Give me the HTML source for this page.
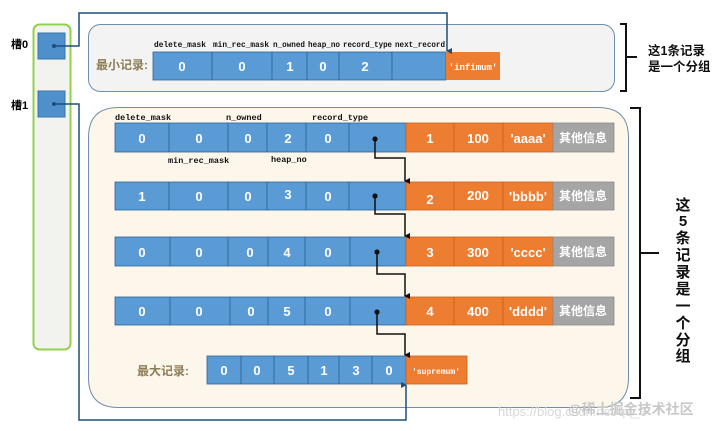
<!DOCTYPE html>
<html><head><meta charset="utf-8"><style>
body{margin:0;width:716px;height:431px;background:#fff;overflow:hidden}
svg{display:block}
.h{font-family:"Liberation Mono",monospace;font-size:8.5px;font-weight:bold;fill:#111}
.h2{font-family:"Liberation Mono",monospace;font-size:8px;font-weight:bold;fill:#111}
.v{font-family:"Liberation Sans",sans-serif;font-size:13px;font-weight:bold;fill:#fff;text-anchor:middle}
.c{font-family:"Liberation Sans","Noto Sans CJK SC",sans-serif;font-weight:bold}
</style></head><body>
<svg width="716" height="431" viewBox="0 0 716 431" xmlns="http://www.w3.org/2000/svg">
<defs><marker id="a" markerWidth="6" markerHeight="6" refX="3" refY="5" orient="auto-start-reverse" markerUnits="userSpaceOnUse"><path d="M0,0 L6,0 L3,6 z" fill="#111"/></marker>
<marker id="b" markerWidth="6" markerHeight="6" refX="3" refY="5" orient="auto" markerUnits="userSpaceOnUse"><path d="M0,0 L6,0 L3,6 z" fill="#1f4e79"/></marker></defs>
<rect x="33.5" y="24.5" width="37" height="325" rx="6" fill="#f2f3ee" stroke="#92d050" stroke-width="2"/>
<rect x="38" y="33" width="27" height="26" fill="#4f8fcc" stroke="#3a74a8"/>
<rect x="38" y="91" width="27" height="26" fill="#4f8fcc" stroke="#3a74a8"/>
<text x="11" y="48" class="c" font-size="11">槽0</text>
<text x="11" y="109" class="c" font-size="11">槽1</text>
<rect x="88.5" y="24.5" width="526" height="67" rx="12" fill="#f3f3f3" stroke="#6f8cab"/>
<text x="96" y="69" class="c" font-size="12" fill="#8c7d57">最小记录:</text>
<g class="h2"><text x="154" y="47" textLength="52" lengthAdjust="spacingAndGlyphs">delete_mask</text><text x="213" y="47" textLength="56" lengthAdjust="spacingAndGlyphs">min_rec_mask</text><text x="273" y="47" textLength="32" lengthAdjust="spacingAndGlyphs">n_owned</text><text x="308" y="47" textLength="32" lengthAdjust="spacingAndGlyphs">heap_no</text><text x="343" y="47" textLength="49" lengthAdjust="spacingAndGlyphs">record_type</text><text x="395" y="47" textLength="50" lengthAdjust="spacingAndGlyphs">next_record</text></g>
<g stroke="#2e6398" stroke-width="0.8" fill="#5b9bd5">
<rect x="153" y="52" width="59" height="28"/><rect x="212" y="52" width="60" height="28"/><rect x="272" y="52" width="35" height="28"/><rect x="307" y="52" width="32" height="28"/><rect x="339" y="52" width="53" height="28"/><rect x="392" y="52" width="54" height="28"/></g>
<rect x="446" y="52" width="54" height="28" fill="#ed7d31"/>
<g class="v"><text x="182" y="71">0</text><text x="242" y="71">0</text><text x="290" y="71">1</text><text x="323" y="71">0</text><text x="365" y="71">2</text></g>
<text x="473" y="70" font-family="Liberation Mono,monospace" font-size="9" font-weight="bold" fill="#fff" text-anchor="middle">'infimum'</text>
<path d="M620,24 h6 v67 h-6 M626,57 h11" fill="none" stroke="#111" stroke-width="2"/>
<text x="648" y="55" class="c" font-size="12.5" fill="#111">这1条记录</text>
<text x="648" y="71" class="c" font-size="12.5" fill="#111">是一个分组</text>
<path d="M118.5,107.5 H598.5 Q628.5,107.5 628.5,137.5 V377.5 Q628.5,407.5 598.5,407.5 H118.5 Q88.5,407.5 88.5,377.5 V137.5 Q88.5,107.5 118.5,107.5 z" fill="#fdf6ea" stroke="#6f8cab"/>
<g class="h"><text x="115" y="120">delete_mask</text><text x="226" y="120">n_owned</text><text x="312" y="120">record_type</text><text x="168" y="163">min_rec_mask</text><text x="271" y="162">heap_no</text></g>
<g stroke="#2e6398" stroke-width="0.8" fill="#5b9bd5">
<rect x="115" y="123" width="54" height="29"/><rect x="169" y="123" width="59" height="29"/><rect x="228" y="123" width="39" height="29"/><rect x="267" y="123" width="39" height="29"/><rect x="306" y="123" width="43" height="29"/><rect x="349" y="123" width="57" height="29"/>
<rect x="115" y="182" width="54" height="28"/><rect x="169" y="182" width="59" height="28"/><rect x="228" y="182" width="39" height="28"/><rect x="267" y="182" width="39" height="28"/><rect x="306" y="182" width="43" height="28"/><rect x="349" y="182" width="57" height="28"/>
<rect x="115" y="237" width="55" height="29"/><rect x="170" y="237" width="58" height="29"/><rect x="228" y="237" width="40" height="29"/><rect x="268" y="237" width="37" height="29"/><rect x="305" y="237" width="45" height="29"/><rect x="350" y="237" width="56" height="29"/>
<rect x="115" y="297" width="55" height="28"/><rect x="170" y="297" width="60" height="28"/><rect x="230" y="297" width="38" height="28"/><rect x="268" y="297" width="37" height="28"/><rect x="305" y="297" width="45" height="28"/><rect x="350" y="297" width="56" height="28"/>
<rect x="207" y="356" width="34" height="28"/><rect x="241" y="356" width="33" height="28"/><rect x="274" y="356" width="34" height="28"/><rect x="308" y="356" width="31" height="28"/><rect x="339" y="356" width="33" height="28"/><rect x="372" y="356" width="34" height="28"/>
</g>
<g stroke="#c8621c" stroke-width="0.8" fill="#ed7d31">
<rect x="406" y="123" width="48" height="29"/><rect x="454" y="123" width="49" height="29"/><rect x="503" y="123" width="50" height="29"/>
<rect x="406" y="182" width="48" height="28"/><rect x="454" y="182" width="49" height="28"/><rect x="503" y="182" width="50" height="28"/>
<rect x="406" y="237" width="48" height="29"/><rect x="454" y="237" width="49" height="29"/><rect x="503" y="237" width="50" height="29"/>
<rect x="406" y="297" width="48" height="28"/><rect x="454" y="297" width="49" height="28"/><rect x="503" y="297" width="50" height="28"/>
<rect x="406" y="356" width="61" height="28"/>
</g>
<g fill="#a5a5a5" stroke="#8a8a8a" stroke-width="0.8">
<rect x="553" y="123" width="61" height="29"/><rect x="553" y="182" width="61" height="28"/><rect x="553" y="237" width="61" height="29"/><rect x="553" y="297" width="61" height="28"/></g>
<g class="v">
<text x="142" y="143">0</text><text x="199" y="143">0</text><text x="248" y="143">0</text><text x="288" y="143">2</text><text x="328" y="143">0</text>
<text x="430" y="143">1</text><text x="478" y="143">100</text><text x="528" y="143">'aaaa'</text>
<text x="142" y="201">1</text><text x="199" y="201">0</text><text x="248" y="201">0</text><text x="288" y="199">3</text><text x="328" y="201">0</text>
<text x="430" y="204">2</text><text x="478" y="200">200</text><text x="528" y="201">'bbbb'</text>
<text x="142" y="257">0</text><text x="199" y="257">0</text><text x="250" y="257">0</text><text x="287" y="257">4</text><text x="328" y="257">0</text>
<text x="430" y="257">3</text><text x="478" y="257">300</text><text x="528" y="257">'cccc'</text>
<text x="142" y="316">0</text><text x="199" y="316">0</text><text x="251" y="316">0</text><text x="287" y="316">5</text><text x="328" y="316">0</text>
<text x="430" y="316">4</text><text x="478" y="316">400</text><text x="528" y="316">'dddd'</text>
<text x="224" y="375">0</text><text x="257" y="375">0</text><text x="291" y="375">5</text><text x="324" y="375">1</text><text x="356" y="375">3</text><text x="389" y="375">0</text>
</g>
<g class="c" font-size="12" fill="#fff" text-anchor="middle">
<text x="583" y="142">其他信息</text><text x="583" y="200">其他信息</text><text x="583" y="256">其他信息</text><text x="583" y="315">其他信息</text></g>
<text x="436" y="374" font-family="Liberation Mono,monospace" font-size="8" font-weight="bold" fill="#fff" text-anchor="middle">'supremum'</text>
<text x="137" y="375" class="c" font-size="12" fill="#8c7d57">最大记录:</text>
<g fill="none" stroke="#111" stroke-width="1.5">
<path d="M375,139 V158 H405 V181" marker-end="url(#a)"/>
<path d="M375,196 V214 H405 V236" marker-end="url(#a)"/>
<path d="M377,252 V274 H405 V296" marker-end="url(#a)"/>
<path d="M377,312 V334 H405 V355" marker-end="url(#a)"/>
</g>
<g fill="#111"><circle cx="375" cy="139" r="2.6"/><circle cx="375" cy="196" r="2.6"/><circle cx="377" cy="252" r="2.6"/><circle cx="377" cy="312" r="2.6"/></g>
<g fill="none" stroke="#1f4e79" stroke-width="1.5">
<path d="M54,46 H79 V13 H447 V51" marker-end="url(#b)"/>
<path d="M54,104 H79 V420 H406 V385" marker-end="url(#b)"/>
</g>
<circle cx="54" cy="46" r="2" fill="#1f4e79"/><circle cx="54" cy="104" r="2" fill="#1f4e79"/>
<path d="M630,108 h10 v290 h-10 M640,253 h19" fill="none" stroke="#111" stroke-width="2"/>
<g class="c" font-size="15" fill="#111" text-anchor="middle">
<text x="683" y="210">这</text><text x="683" y="226">5</text><text x="683" y="243">条</text><text x="683" y="260">记</text><text x="683" y="277">录</text><text x="683" y="294">是</text><text x="683" y="311">一</text><text x="683" y="328">个</text><text x="683" y="345">分</text><text x="683" y="361">组</text></g>
<text x="498" y="416" font-family="Liberation Sans,sans-serif" font-size="13" fill="#d8d8d8">https://blog.csdn.net/qq_3</text>
<text x="568" y="414" class="c" font-size="14" fill="#c8c8c8" font-weight="normal">@稀土掘金技术社区</text>
</svg>
</body></html>
